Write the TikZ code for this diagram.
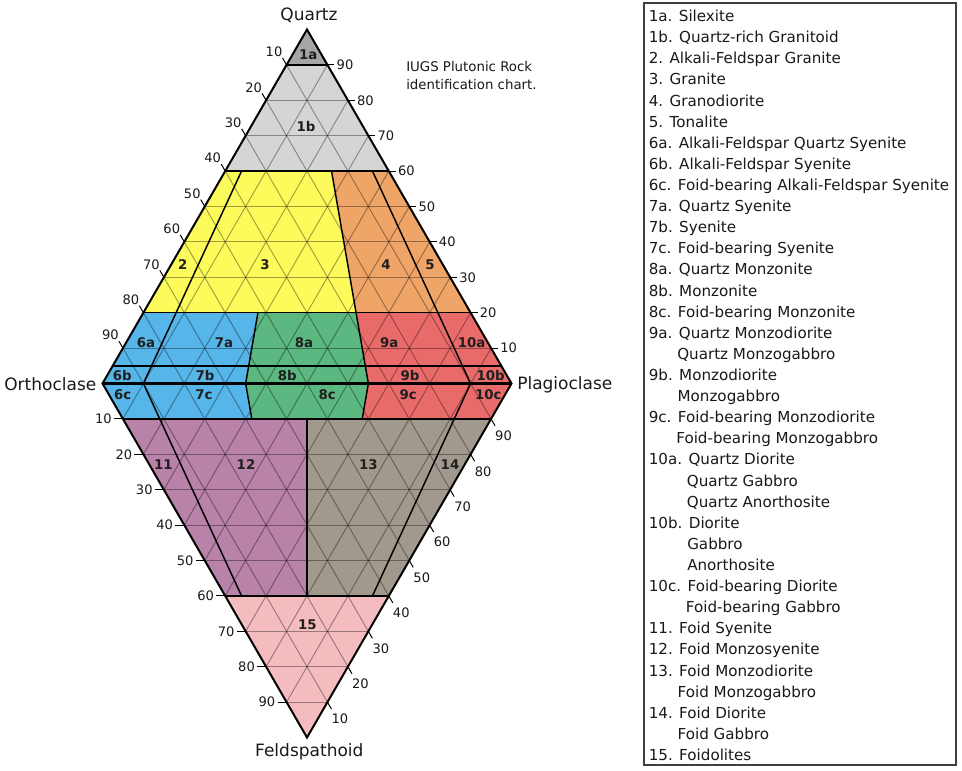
\documentclass[tikz,border=0pt]{standalone}
\usepackage{fontspec}
\setmainfont{DejaVu Sans}
\usetikzlibrary{calc}
\definecolor{cIa}{RGB}{168,166,164}
\definecolor{cIb}{RGB}{213,213,213}
\definecolor{cyel}{RGB}{253,251,91}
\definecolor{cora}{RGB}{239,165,103}
\definecolor{cblu}{RGB}{86,181,233}
\definecolor{cgre}{RGB}{91,184,129}
\definecolor{cred}{RGB}{233,107,105}
\definecolor{cpur}{RGB}{184,130,169}
\definecolor{ctau}{RGB}{161,153,141}
\definecolor{cpin}{RGB}{245,188,191}
\begin{document}
\begin{tikzpicture}[x=0.75pt,y=-0.75pt,
  bound/.style={line width=1.1pt, black},
  outline/.style={line width=1.5pt, black, line join=miter},
  gridl/.style={line width=0.7pt, black, opacity=0.37},
  tickl/.style={line width=0.75pt, black},
  ticklab/.style={font=\fontsize{9.8}{11}\selectfont, inner sep=0pt, text=black!90},
  rlab/.style={font=\bfseries\fontsize{10}{11}\selectfont, text=black!88, inner sep=0pt},
  corner/.style={font=\fontsize{12.75}{15}\selectfont, inner sep=0pt, text=black!90},
  titl/.style={font=\fontsize{10}{12}\selectfont, inner sep=0pt, anchor=base west, text=black!90},
  leg/.style={font=\fontsize{11.35}{14}\selectfont, inner sep=0pt, anchor=base west, text=black!90},
]
\useasboundingbox (0,0) rectangle (962,770);

\coordinate (Qv) at (307,29.5);
\coordinate (A) at (102.5,383.5);
\coordinate (P) at (511.5,383.5);
\coordinate (F) at (307,737.5);

% ---- region fills
\fill[cIa] (Qv) -- (286.55,64.9) -- (327.45,64.9) -- cycle;
\fill[cIb] (286.55,64.9) -- (327.45,64.9) -- (388.8,171.1) -- (225.2,171.1) -- cycle;
\fill[cyel] (225.2,171.1) -- (331.54,171.1) -- (356.08,312.7) -- (143.4,312.7) -- cycle;
\fill[cora] (331.54,171.1) -- (388.8,171.1) -- (470.6,312.7) -- (356.08,312.7) -- cycle;
\fill[cblu] (143.4,312.7) -- (257.92,312.7) -- (245.65,383.5) -- (251.79,418.9) -- (122.95,418.9) -- (A) -- cycle;
\fill[cgre] (257.92,312.7) -- (356.08,312.7) -- (368.35,383.5) -- (362.22,418.9) -- (251.79,418.9) -- (245.65,383.5) -- cycle;
\fill[cred] (356.08,312.7) -- (470.6,312.7) -- (P) -- (491.05,418.9) -- (362.22,418.9) -- (368.35,383.5) -- cycle;
\fill[cpur] (122.95,418.9) -- (307,418.9) -- (307,595.9) -- (225.2,595.9) -- cycle;
\fill[ctau] (307,418.9) -- (491.05,418.9) -- (388.8,595.9) -- (307,595.9) -- cycle;
\fill[cpin] (225.2,595.9) -- (388.8,595.9) -- (F) -- cycle;

% ---- grid
\begin{scope}
\clip (Qv) -- (P) -- (F) -- (A) -- cycle;
\foreach \k in {1,...,9} {
  \draw[gridl] (102.5,{383.5-35.4*\k}) -- (511.5,{383.5-35.4*\k});
  \draw[gridl] (102.5,{383.5+35.4*\k}) -- (511.5,{383.5+35.4*\k});
  \pgfmathsetmacro\xk{102.5+40.9*\k}
  \draw[gridl] ({\xk-204.5},737.5) -- ({\xk+204.5},29.5);
  \draw[gridl] ({\xk-204.5},29.5) -- ({\xk+204.5},737.5);
}
\end{scope}

% ---- boundaries
\draw[bound] (286.55,64.9) -- (327.45,64.9);
\draw[bound] (225.2,171.1) -- (388.8,171.1);
\draw[bound] (143.4,312.7) -- (470.6,312.7);
\draw[bound] (112.725,365.8) -- (501.275,365.8);
\draw[line width=1.6pt] (A) -- (P);
\draw[bound] (122.95,418.9) -- (491.05,418.9);
\draw[bound] (225.2,595.9) -- (388.8,595.9);
\draw[bound] (241.56,171.1) -- (143.4,383.5) -- (241.56,595.9);
\draw[bound] (257.92,312.7) -- (245.65,383.5) -- (251.79,418.9);
\draw[bound] (331.54,171.1) -- (368.35,383.5) -- (362.22,418.9);
\draw[bound] (372.44,171.1) -- (470.6,383.5) -- (372.44,595.9);
\draw[bound] (307,418.9) -- (307,595.9);
\draw[outline] (Qv) -- (P) -- (F) -- (A) -- cycle;

% ---- ticks and tick labels
\foreach \k in {1,...,9} {
  \pgfmathtruncatemacro\lab{10*\k}
  \pgfmathtruncatemacro\labr{100-10*\k}
  \coordinate (ul\k) at ({102.5+20.45*\k},{383.5-35.4*\k});
  \draw[tickl] (ul\k) -- ++(-4,-6.93);
  \node[ticklab] (ulL\k) at ($(ul\k)+(-12.5,-13)$) {\labr};
  \coordinate (ur\k) at ({511.5-20.45*\k},{383.5-35.4*\k});
  \draw[tickl] (ur\k) -- ++(7,0);
  \node[ticklab, anchor=west] (urL\k) at ($(ur\k)+(9,0)$) {\lab};
  \coordinate (ll\k) at ({102.5+20.45*\k},{383.5+35.4*\k});
  \draw[tickl] (ll\k) -- ++(-9,0);
  \node[ticklab, anchor=east] (llL\k) at ($(ll\k)+(-11,0)$) {\lab};
  \coordinate (lr\k) at ({511.5-20.45*\k},{383.5+35.4*\k});
  \draw[tickl] (lr\k) -- ++(4,6.93);
  \node[ticklab] (lrL\k) at ($(lr\k)+(12.5,17)$) {\labr};
}

% ---- region labels
\node[rlab] (r1a) at (308.3,54.3) {1a};
\node[rlab] (r1b) at (306,126.7) {1b};
\node[rlab] (r2) at (182.7,265) {2};
\node[rlab] (r3) at (265,265) {3};
\node[rlab] (r4) at (386,265) {4};
\node[rlab] (r5) at (430,265) {5};
\node[rlab] (r6a) at (146,342.3) {6a};
\node[rlab] (r7a) at (224,342.3) {7a};
\node[rlab] (r8a) at (304,342.3) {8a};
\node[rlab] (r9a) at (389.3,342.3) {9a};
\node[rlab] (r10a) at (471.7,342.3) {10a};
\node[rlab] (r6b) at (122.3,375.7) {6b};
\node[rlab] (r7b) at (205,375.7) {7b};
\node[rlab] (r8b) at (287.3,375.7) {8b};
\node[rlab] (r9b) at (410,375.7) {9b};
\node[rlab] (r10b) at (490.7,375.7) {10b};
\node[rlab] (r6c) at (122.7,394.3) {6c};
\node[rlab] (r7c) at (204,394.3) {7c};
\node[rlab] (r8c) at (327.3,394.3) {8c};
\node[rlab] (r9c) at (408.3,394.3) {9c};
\node[rlab] (r10c) at (488.3,394.3) {10c};
\node[rlab] (r11) at (163.3,464.3) {11};
\node[rlab] (r12) at (246,464.3) {12};
\node[rlab] (r13) at (368.3,464.3) {13};
\node[rlab] (r14) at (450,464.3) {14};
\node[rlab] (r15) at (307.3,625) {15};

% ---- corner labels
\node[corner, anchor=base] (quartz) at (309,20.3) {Quartz};
\node[corner, anchor=base] (orth) at (50.3,390.3) {Orthoclase};
\node[corner, anchor=base west] (plag) at (517,389.6) {Plagioclase};
\node[corner, anchor=base] (feld) at (309.3,756.3) {Feldspathoid};

% ---- title
\node[titl] (t1) at (406,71.7) {IUGS Plutonic Rock};
\node[titl] (t2) at (406,90) {identification chart.};

% ---- legend
\draw[line width=1pt, black!75] (644,3) rectangle (956,765);
\foreach \t [count=\i] in {
 {1a. Silexite},
 {1b. Quartz-rich Granitoid},
 {2. Alkali-Feldspar Granite},
 {3. Granite},
 {4. Granodiorite},
 {5. Tonalite},
 {6a. Alkali-Feldspar Quartz Syenite},
 {6b. Alkali-Feldspar Syenite},
 {6c. Foid-bearing Alkali-Feldspar Syenite},
 {7a. Quartz Syenite},
 {7b. Syenite},
 {7c. Foid-bearing Syenite},
 {8a. Quartz Monzonite},
 {8b. Monzonite},
 {8c. Foid-bearing Monzonite},
 {9a. Quartz Monzodiorite},
 {\phantom{9a.\ }Quartz Monzogabbro},
 {9b. Monzodiorite},
 {\phantom{9b.\ }Monzogabbro},
 {9c. Foid-bearing Monzodiorite},
 {\phantom{9c.\ }Foid-bearing Monzogabbro},
 {10a. Quartz Diorite},
 {\phantom{10a.\ }Quartz Gabbro},
 {\phantom{10a.\ }Quartz Anorthosite},
 {10b. Diorite},
 {\phantom{10b.\ }Gabbro},
 {\phantom{10b.\ }Anorthosite},
 {10c. Foid-bearing Diorite},
 {\phantom{10c.\ }Foid-bearing Gabbro},
 {11. Foid Syenite},
 {12. Foid Monzosyenite},
 {13. Foid Monzodiorite},
 {\phantom{13.\ }Foid Monzogabbro},
 {14. Foid Diorite},
 {\phantom{14.\ }Foid Gabbro},
 {15. Foidolites}
}{
  \node[leg] (leg\i) at (648.5,{21.6+21.11*(\i-1)}) {\t};
}
\end{tikzpicture}
\end{document}
